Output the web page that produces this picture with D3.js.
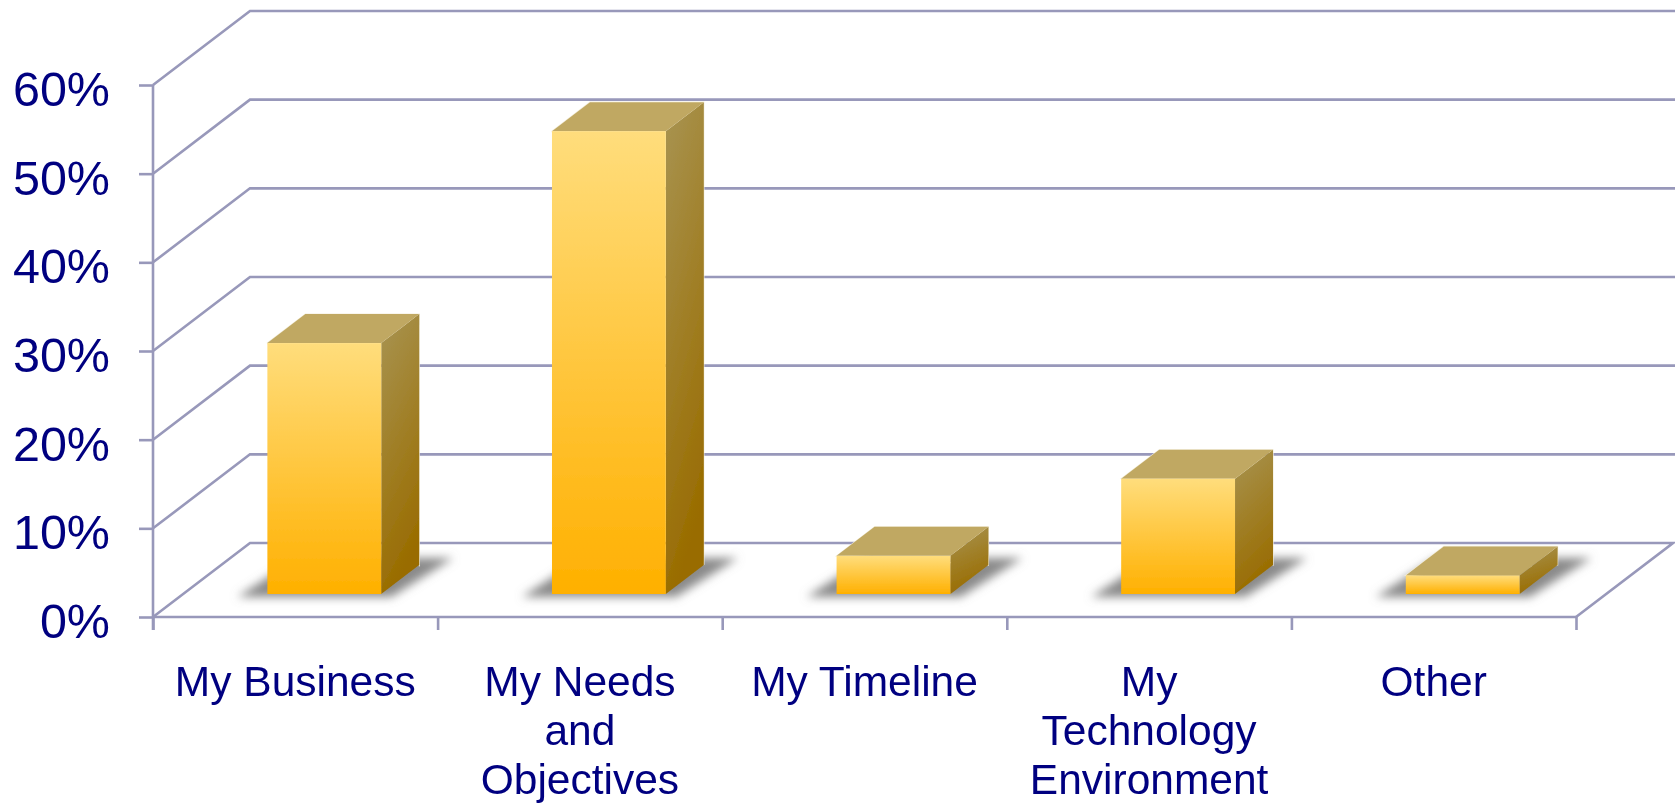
<!DOCTYPE html>
<html>
<head>
<meta charset="utf-8">
<script src="https://cdn.jsdelivr.net/npm/d3@7"></script>
<style>
html,body{margin:0;padding:0;background:#fff;overflow:hidden}
svg{display:block}
text{font-family:"Liberation Sans",Arial,sans-serif;fill:#000080}
</style>
</head>
<body>
<svg id="chart" width="1675" height="804"></svg>
<script>
const categories = ["My Business", "My Needs and Objectives", "My Timeline", "My Technology Environment", "Other"];
const categoryLines = [["My Business"], ["My Needs", "and", "Objectives"], ["My Timeline"], ["My", "Technology", "Environment"], ["Other"]];
const values = [28.3, 52.2, 4.3, 13.0, 2.1];
const yTicks = [0, 10, 20, 30, 40, 50, 60];

const W = 1675, H = 804;
const x0 = 153, x1 = 1576, y0 = 617, y60 = 85;
const wallDx = 97, wallDy = 74;      // depth of the floor / walls
const barDx = 38, barDy = 29;        // depth of each bar
const floorDrop = 23, floorShift = 29; // bars stand part-way back on the floor
const gridColor = "#9898ba";

const svg = d3.select("#chart");
const defs = svg.append("defs");

const soft = defs.append("filter").attr("id", "soft").attr("x", "-2%").attr("y", "-2%").attr("width", "104%").attr("height", "104%");
soft.append("feGaussianBlur").attr("stdDeviation", 0.55);

const sb = defs.append("filter").attr("id", "shadowBlur").attr("x", "-30%").attr("y", "-30%").attr("width", "160%").attr("height", "160%");
sb.append("feGaussianBlur").attr("stdDeviation", 5);

const front = defs.append("linearGradient").attr("id", "frontG").attr("x1", 0).attr("y1", 0).attr("x2", 0).attr("y2", 1);
front.append("stop").attr("offset", 0).attr("stop-color", "#ffdd7c");
front.append("stop").attr("offset", 1).attr("stop-color", "#ffb000");

const side = defs.append("linearGradient").attr("id", "sideG").attr("x1", 0).attr("y1", 0).attr("x2", 0.25).attr("y2", 1);
side.append("stop").attr("offset", 0).attr("stop-color", "#a89452");
side.append("stop").attr("offset", 1).attr("stop-color", "#996c00");

const y = d3.scaleLinear().domain([0, 60]).range([y0, y60]);
const xTick = d3.scaleLinear().domain([0, categories.length]).range([x0, x1]);
const x = d3.scaleBand().domain(categories).range([x0, x1]).paddingInner(0.6).paddingOuter(0.3);

const root = svg.append("g").attr("filter", "url(#soft)");

// Grid: side wall diagonals and back wall lines
const grid = root.append("g").attr("fill", "none").attr("stroke", gridColor).attr("stroke-width", 2.6);
grid.selectAll("polyline.g").data(yTicks).join("polyline")
  .attr("class", "g")
  .attr("points", d => d === 0
    ? `${x0},${y(d)} ${x0 + wallDx},${y(d) - wallDy} ${x1 + wallDx},${y(d) - wallDy} ${x1},${y(d)}`
    : `${x0},${y(d)} ${x0 + wallDx},${y(d) - wallDy} ${W},${y(d) - wallDy}`);

// Axes
const yAxis = d3.axisLeft(y).tickValues(yTicks).tickSize(14).tickPadding(29).tickFormat(d => d + "%");
const yG = root.append("g").attr("transform", `translate(${x0},0)`).call(yAxis);
yG.select(".domain").attr("stroke", gridColor).attr("stroke-width", 2.6).attr("d", `M0,${y60}V${y0 + 13}`);
yG.selectAll(".tick line").attr("stroke", gridColor).attr("stroke-width", 2.6);
yG.selectAll(".tick text").attr("font-size", 48.5).attr("dy", null).attr("y", 20.5).attr("text-anchor", "end")
  .style("font-family", '"Liberation Sans",Arial,sans-serif').style("fill", "#000080");

const xAxis = d3.axisBottom(xTick).tickValues(d3.range(categories.length + 1)).tickSize(13).tickFormat("");
const xG = root.append("g").attr("transform", `translate(0,${y0})`).call(xAxis);
xG.select(".domain").attr("stroke", gridColor).attr("stroke-width", 2.6).attr("d", `M${x0},0H${x1}`);
xG.selectAll(".tick line").attr("stroke", gridColor).attr("stroke-width", 2.6);

// Bars
const bx = d => x(d.c) + floorShift;
const by = () => y0 - floorDrop;
const ty = d => y(d.v) - floorDrop;
const bw = x.bandwidth();
const data = categories.map((c, i) => ({ c, v: values[i], lines: categoryLines[i] }));

root.append("g").selectAll("polygon").data(data).join("polygon")
  .attr("fill", "#8a8a8a").attr("filter", "url(#shadowBlur)")
  .attr("points", d => {
    const l = bx(d), b = by();
    return `${l - 30},${b + 3} ${l + bw + 10},${b + 3} ${l + bw + 72},${b - 36} ${l + 30},${b - 36}`;
  });

const bars = root.append("g").selectAll("g").data(data).join("g");

bars.append("polygon")
  .attr("fill", "none").attr("stroke", "#f3eedc").attr("stroke-width", 1.2)
  .attr("points", d => {
    const l = bx(d), r = l + bw, b = by(), t = ty(d);
    return `${l},${t} ${l + barDx},${t - barDy} ${r + barDx},${t - barDy} ${r + barDx},${b - barDy}`;
  });

bars.append("polygon")
  .attr("fill", "url(#sideG)")
  .attr("points", d => {
    const r = bx(d) + bw, b = by(), t = ty(d);
    return `${r},${t} ${r + barDx},${t - barDy} ${r + barDx},${b - barDy} ${r},${b}`;
  });

bars.append("polygon")
  .attr("fill", "#c0a862")
  .attr("points", d => {
    const l = bx(d), r = l + bw, t = ty(d);
    return `${l},${t} ${l + barDx},${t - barDy} ${r + barDx},${t - barDy} ${r},${t}`;
  });

bars.append("rect")
  .attr("fill", "url(#frontG)")
  .attr("x", d => bx(d)).attr("width", bw)
  .attr("y", d => ty(d)).attr("height", d => by() - ty(d));

// Category labels
const labels = root.append("g").selectAll("text").data(data).join("text")
  .attr("text-anchor", "middle").attr("font-size", 42.5)
  .attr("x", d => x(d.c) + bw / 2)
  .attr("y", 696);
labels.selectAll("tspan").data(d => d.lines).join("tspan")
  .attr("x", function () { return d3.select(this.parentNode).attr("x"); })
  .attr("dy", (d, i) => i ? 49.2 : 0)
  .text(d => d);
</script>
</body>
</html>
